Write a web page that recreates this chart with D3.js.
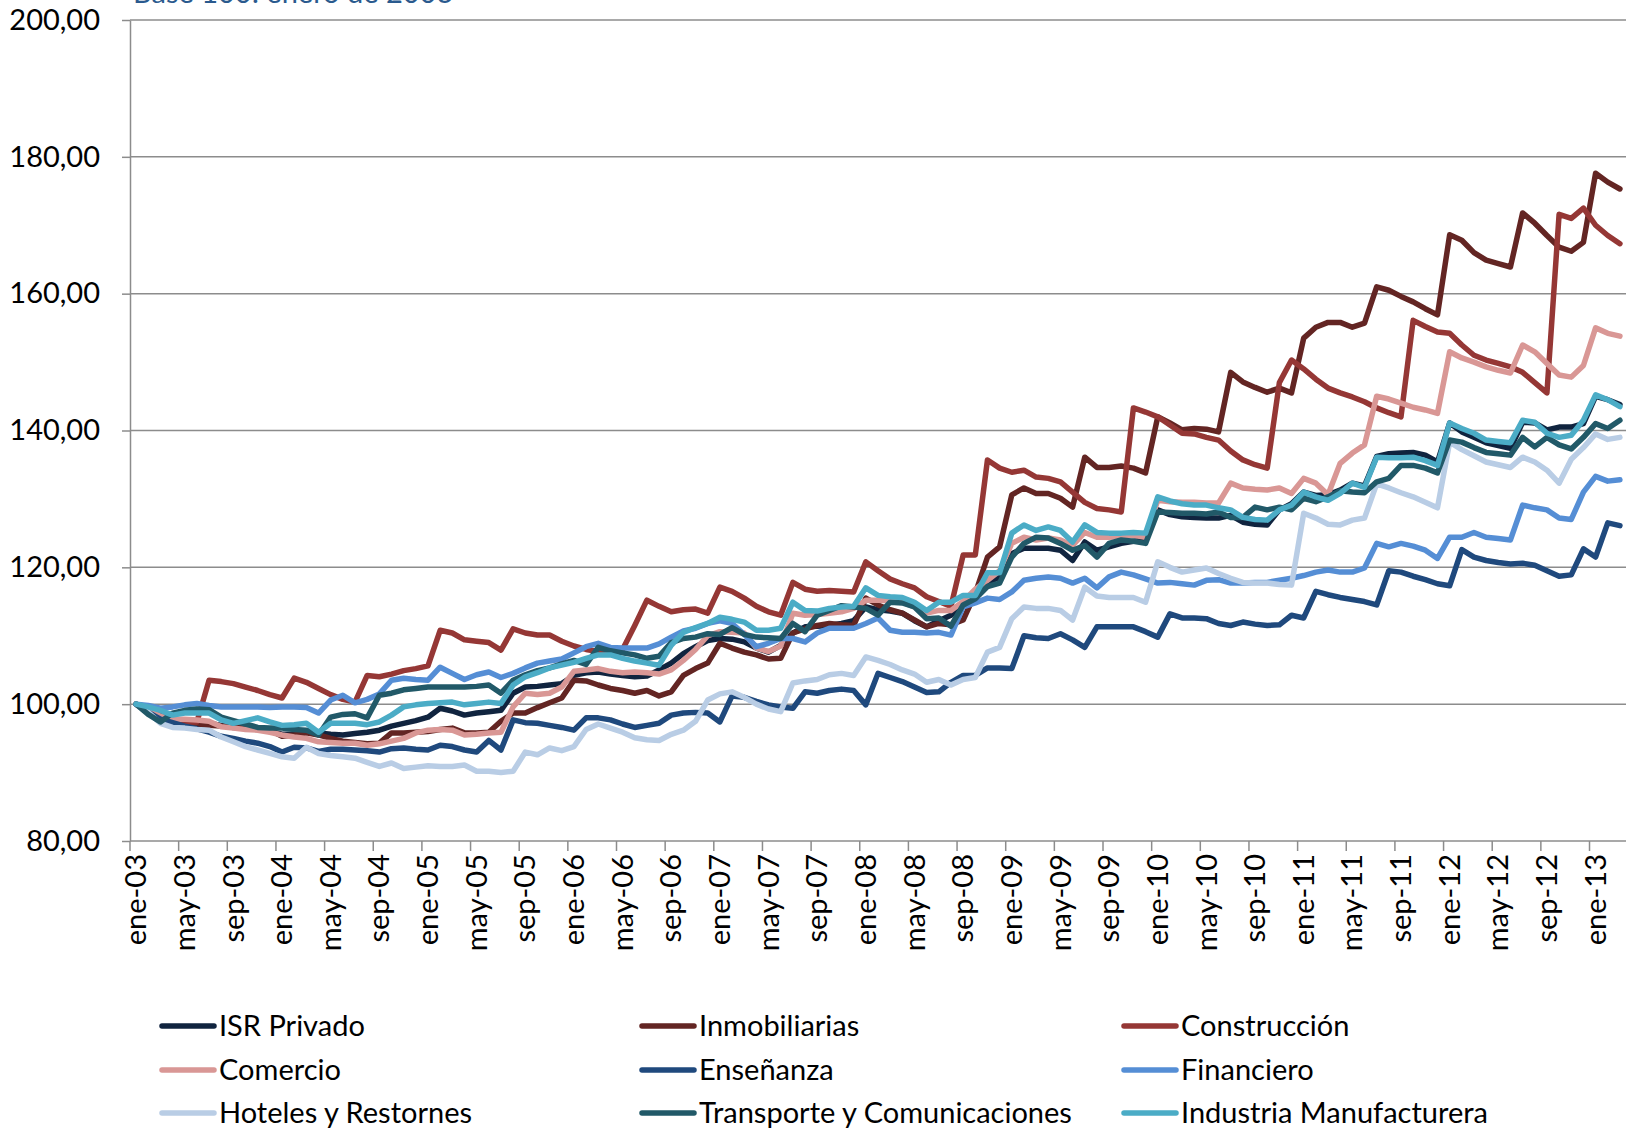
<!DOCTYPE html>
<html>
<head>
<meta charset="utf-8">
<script src="https://cdn.jsdelivr.net/npm/d3@7"></script>
<style>
body{margin:0;background:#fff;}
svg text{font-family:Lato,"Noto Sans",sans-serif;fill:#000;}
.axis path,.axis line{stroke:#8c8c8c;stroke-width:1.5;}
.grid line{stroke:#8c8c8c;stroke-width:1.5;}
.serie{fill:none;stroke-width:5.5;stroke-linejoin:round;stroke-linecap:round;}
</style>
</head>
<body>
<svg id="chart" width="1637" height="1130"></svg>
<script>
var svgWidth=1637;
var svgHeight=1130;
var plotLeft=130;
var plotRight=1626;
var plotTop=20;
var plotBottom=841;

var meses=["ene","feb","mar","abr","may","jun","jul","ago","sep","oct","nov","dic"];
var yTicks=[80,100,120,140,160,180,200];
var titulo="Base 100: enero de 2003";

var nombres=["ISR Privado","Inmobiliarias","Construcción","Comercio","Enseñanza","Financiero","Hoteles y Restornes","Transporte y Comunicaciones","Industria Manufacturera"];
var colores=["#10243f","#632523","#953735","#d99795","#1f497d","#558ed5","#b9cde5","#215968","#4bacc6"];

var isrPrivado=[
100,99.2,98.4,97.8,97.6,97.4,97.2,96.9,96.6,96.5,96.4,96.0,
95.6,95.6,95.9,95.8,95.6,95.5,95.7,95.9,96.2,96.8,97.2,97.6,
98.1,99.4,99.0,98.4,98.7,98.9,99.1,101.6,102.5,102.6,102.8,103.0,
104.2,104.6,104.7,104.4,104.2,104.0,104.1,105.0,106.0,107.4,108.4,109.3,
109.6,109.5,109.1,108.2,107.6,108.6,110.4,111.3,111.4,111.5,111.8,112.2,
114.2,113.8,113.6,113.3,112.2,111.3,112.2,113.0,114.8,116.5,117.7,118.6,
122.0,122.8,122.8,122.8,122.5,121.0,123.7,122.5,123.0,123.5,123.8,124.0,
128.4,127.7,127.4,127.3,127.2,127.2,127.6,126.6,126.3,126.2,128.4,129.3,
131.0,130.5,130.6,131.3,132.3,131.9,136.2,136.6,136.7,136.8,136.4,135.4,
141.1,139.8,139.0,138.2,137.8,137.4,141.2,141.1,140.1,140.5,140.5,141.0,
145.0,144.5,143.8];

var inmobiliarias=[
100,99.0,98.0,97.5,97.2,97.0,96.9,96.8,96.7,96.6,96.5,96.2,
95.3,95.5,95.8,95.5,95.0,94.6,94.4,94.2,94.3,95.8,95.8,95.9,
96.0,96.3,96.5,95.8,95.8,95.9,97.5,98.7,98.7,99.5,100.2,100.9,
103.5,103.4,102.8,102.3,102.0,101.6,102.0,101.2,101.8,104.2,105.2,106.0,
108.9,108.2,107.6,107.2,106.6,106.7,110.4,111.0,111.5,111.8,111.6,111.5,
115.5,114.5,113.8,113.3,112.3,111.3,111.8,111.6,112.3,116.2,121.5,123.0,
130.6,131.6,130.8,130.8,130.1,128.8,136.1,134.6,134.6,134.8,134.5,133.8,
142.0,141.1,140.1,140.3,140.2,139.8,148.5,147.1,146.3,145.6,146.2,145.5,
153.5,155.1,155.8,155.8,155.1,155.7,161.0,160.5,159.6,158.8,157.8,156.9,
168.6,167.8,166.0,164.9,164.4,163.9,171.8,170.3,168.5,166.8,166.2,167.5,
177.6,176.3,175.3];

var construccion=[
100,99.2,98.5,97.8,97.4,97.4,103.5,103.3,103.0,102.5,102.0,101.4,
100.9,103.8,103.2,102.3,101.4,100.7,100.3,104.2,104.0,104.4,104.9,105.2,
105.6,110.8,110.4,109.4,109.2,109.0,107.9,111.0,110.4,110.1,110.1,109.2,
108.5,108.0,107.7,107.5,108.0,111.5,115.2,114.3,113.5,113.8,113.9,113.3,
117.1,116.5,115.5,114.3,113.5,113.0,117.8,116.8,116.5,116.6,116.5,116.4,
120.8,119.5,118.3,117.6,117.0,115.7,115.0,114.3,121.8,121.8,135.7,134.5,
133.9,134.2,133.2,133.0,132.5,131.0,129.5,128.6,128.4,128.1,143.3,142.7,
142.0,140.8,139.6,139.5,139.0,138.6,137.0,135.7,135.0,134.5,147.0,150.3,
149.0,147.5,146.2,145.5,144.9,144.2,143.3,142.6,142.0,156.1,155.2,154.4,
154.2,152.5,151.0,150.3,149.8,149.3,148.5,147.0,145.5,171.6,171.0,172.5,
170.0,168.5,167.3];

var comercio=[
100,99.2,98.2,97.8,97.8,97.7,97.5,96.7,96.5,96.3,96.2,95.9,
95.5,95.2,95.0,94.5,94.4,94.3,94.3,94.0,94.2,94.6,95.0,95.8,
96.2,96.3,96.2,95.5,95.6,95.8,95.9,99.6,101.6,101.4,101.6,102.5,
104.8,105.0,105.2,104.8,104.6,104.7,104.6,104.4,105.0,106.4,108.0,110.0,
110.6,110.5,110.4,108.2,107.7,108.5,113.3,113.0,113.1,113.3,113.5,114.0,
115.2,115.2,115.1,114.9,114.2,113.3,113.7,113.7,115.0,116.8,118.1,119.5,
123.5,124.4,124.0,124.3,124.0,123.2,125.1,124.4,124.4,124.5,124.7,124.4,
129.8,129.6,129.5,129.5,129.4,129.4,132.3,131.6,131.4,131.3,131.6,130.8,
133.0,132.3,130.6,135.2,136.7,137.9,145.0,144.6,144.0,143.4,143.0,142.5,
151.5,150.6,150.0,149.3,148.8,148.4,152.5,151.5,149.8,148.1,147.8,149.5,
155.0,154.2,153.8];

var ensenanza=[
100,98.8,97.8,97.3,96.8,96.4,95.9,95.3,95.0,94.6,94.3,93.8,
93.0,93.7,93.6,93.1,93.4,93.4,93.3,93.2,93.0,93.5,93.6,93.4,
93.3,94.0,93.8,93.3,93.0,94.7,93.3,97.7,97.3,97.2,96.9,96.6,
96.2,98.0,98.0,97.7,97.1,96.6,96.9,97.2,98.4,98.7,98.8,98.7,
97.4,101.2,101.0,100.4,99.9,99.6,99.4,101.8,101.6,102.0,102.2,102.0,
99.9,104.5,103.9,103.3,102.5,101.7,101.8,103.2,104.2,104.2,105.3,105.3,
105.2,110.0,109.7,109.6,110.3,109.4,108.3,111.3,111.3,111.3,111.3,110.6,
109.8,113.2,112.6,112.6,112.5,111.8,111.5,112.0,111.7,111.5,111.6,113.0,
112.6,116.5,116.0,115.6,115.3,115.0,114.5,119.5,119.3,118.7,118.2,117.6,
117.3,122.6,121.5,121.0,120.7,120.5,120.6,120.3,119.5,118.7,118.9,122.7,
121.5,126.5,126.1];

var financiero=[
100,99.8,99.4,99.6,99.9,100.1,99.8,99.6,99.6,99.6,99.6,99.5,
99.6,99.6,99.5,98.7,100.6,101.3,100.2,100.7,101.5,103.5,103.8,103.6,
103.5,105.4,104.5,103.6,104.3,104.7,103.9,104.5,105.3,106.0,106.3,106.6,
107.5,108.4,108.9,108.3,108.2,108.2,108.2,108.8,109.8,110.7,111.1,111.8,
112.2,111.8,110.2,108.4,108.9,109.6,109.6,109.1,110.4,111.1,111.1,111.1,
111.8,112.6,110.8,110.5,110.5,110.4,110.5,110.1,114.2,114.8,115.5,115.3,
116.4,118.1,118.4,118.6,118.4,117.7,118.4,117.0,118.6,119.3,118.9,118.3,
117.7,117.8,117.6,117.4,118.1,118.2,117.7,117.7,117.8,117.8,118.1,118.4,
118.8,119.3,119.6,119.3,119.3,119.9,123.5,123.0,123.5,123.1,122.5,121.3,
124.4,124.4,125.1,124.4,124.2,124.0,129.1,128.7,128.4,127.2,127.0,131.0,
133.3,132.6,132.8];

var hoteles=[
100,98.8,97.2,96.6,96.5,96.3,96.2,95.2,94.5,93.8,93.3,92.8,
92.3,92.1,93.7,92.8,92.5,92.3,92.1,91.5,90.9,91.4,90.6,90.8,
91.0,90.9,90.9,91.1,90.2,90.2,90.0,90.2,93.0,92.6,93.6,93.2,
93.8,96.3,97.1,96.5,95.9,95.1,94.8,94.7,95.6,96.2,97.5,100.6,
101.5,101.8,101.0,100.0,99.3,98.9,103.1,103.4,103.6,104.3,104.5,104.2,
106.9,106.4,105.8,105.0,104.4,103.2,103.6,102.8,103.6,103.9,107.6,108.3,
112.5,114.2,114.0,114.0,113.7,112.3,117.1,115.8,115.6,115.6,115.6,114.9,
120.8,120.0,119.3,119.6,119.9,119.1,118.4,117.8,117.7,117.7,117.5,117.4,
127.9,127.2,126.3,126.2,126.9,127.2,132.2,131.6,130.9,130.3,129.5,128.7,
138.3,137.2,136.3,135.4,135.0,134.6,136.1,135.4,134.2,132.3,135.8,137.5,
139.5,138.7,139.0];

var transporte=[
100,98.5,97.4,98.7,99.1,99.3,99.2,98.1,97.6,97.1,96.6,96.5,
96.5,96.3,96.2,95.5,98.1,98.5,98.6,98.0,101.3,101.6,102.1,102.3,
102.5,102.5,102.5,102.5,102.6,102.8,101.6,103.5,104.3,104.9,105.3,105.9,
106.4,105.8,108.3,107.8,107.5,107.2,106.7,107.0,109.0,109.6,109.8,110.3,
110.2,111.2,110.2,109.8,109.7,109.6,111.8,110.6,113.0,113.7,114.4,114.2,
114.0,113.0,114.9,114.8,114.2,112.5,112.6,111.4,114.5,115.4,117.2,117.7,
121.5,123.5,124.4,124.3,123.5,122.5,123.2,121.5,123.5,124.0,123.8,123.5,
128.1,128.0,127.9,127.9,127.8,128.1,127.3,127.3,128.8,128.4,128.8,128.4,
130.1,129.6,130.3,131.2,131.0,130.9,132.5,133.0,134.9,134.9,134.5,133.8,
138.6,138.3,137.5,136.8,136.6,136.4,139.0,137.6,139.0,137.9,137.3,139.0,
141.0,140.3,141.5];

var industria=[
100,99.6,99.1,98.4,98.7,98.7,98.7,97.7,97.2,97.6,98.0,97.4,
96.9,97.0,97.2,95.9,97.2,97.2,97.2,97.0,97.4,98.4,99.6,99.9,
100.1,100.2,100.3,99.9,100.1,100.3,100.1,102.8,104.0,104.6,105.3,105.7,
106.1,106.7,107.2,107.2,106.7,106.3,106.0,105.7,108.6,110.5,111.2,111.8,
112.7,112.4,112.0,110.8,110.8,111.1,114.9,113.7,113.6,114.0,114.2,114.3,
117.0,115.9,115.7,115.6,114.9,113.7,114.9,114.9,115.9,115.9,119.2,119.2,
125.0,126.2,125.4,125.9,125.4,123.7,126.2,125.1,125.0,125.0,125.1,125.0,
130.3,129.7,129.3,129.1,129.1,128.7,128.4,127.3,127.0,126.9,128.4,129.1,
131.0,130.3,129.8,130.8,132.3,131.7,136.1,136.0,136.0,136.1,135.6,134.9,
141.1,140.3,139.6,138.6,138.4,138.2,141.5,141.2,139.6,139.0,139.3,141.5,
145.2,144.5,143.5];

var series=[isrPrivado,inmobiliarias,construccion,comercio,ensenanza,financiero,hoteles,transporte,industria];

// categorias mensuales ene-03 ... mar-13
var categorias=[];
for(var i=0;i<isrPrivado.length;i++){
    var anio=3+Math.floor(i/12);
    categorias.push(meses[i%12]+"-"+(anio<10?"0"+anio:anio));
}

var svg=d3.select("#chart");
svg.append("rect").attr("width",svgWidth).attr("height",svgHeight).attr("fill","#fff");

var xScale=d3.scaleBand()
    .domain(categorias)
    .range([plotLeft,plotRight])
    .padding(0);

var yScale=d3.scaleLinear()
    .domain([80,200])
    .range([plotBottom,plotTop]);

var fmt=d3.formatLocale({decimal:",",thousands:".",grouping:[3],currency:["","€"]}).format(".2f");

// lineas de cuadricula
svg.append("g")
    .attr("class","grid")
    .selectAll("line")
    .data(yTicks.slice(1))
    .enter()
    .append("line")
    .attr("x1",plotLeft)
    .attr("x2",plotRight)
    .attr("y1",function(d){return yScale(d);})
    .attr("y2",function(d){return yScale(d);});

// eje vertical
var yAxis=svg.append("g")
    .attr("class","axis")
    .attr("transform","translate("+plotLeft+",0)")
    .call(d3.axisLeft(yScale).tickValues(yTicks).tickSize(8).tickSizeOuter(0).tickPadding(22).tickFormat(fmt));
yAxis.selectAll("text").attr("font-size",29).attr("fill","#000");

// eje horizontal
var etiquetas=categorias.filter(function(d,i){return i%4==0;});
svg.append("line")
    .attr("class","axisx")
    .attr("x1",plotLeft).attr("x2",plotRight)
    .attr("y1",plotBottom).attr("y2",plotBottom)
    .attr("stroke","#8c8c8c").attr("stroke-width",1.5);

svg.append("g")
    .selectAll("line")
    .data(etiquetas)
    .enter()
    .append("line")
    .attr("x1",function(d){return xScale(d);})
    .attr("x2",function(d){return xScale(d);})
    .attr("y1",plotBottom)
    .attr("y2",plotBottom+10)
    .attr("stroke","#8c8c8c").attr("stroke-width",1.5);

svg.append("g")
    .selectAll("text")
    .data(etiquetas)
    .enter()
    .append("text")
    .attr("transform",function(d){
        return "translate("+(xScale(d)+xScale.bandwidth()/2)+","+(plotBottom+13)+") rotate(-90)";
    })
    .attr("text-anchor","end")
    .attr("dy","0.35em")
    .attr("font-size",29)
    .text(function(d){return d;});

// series
var line=d3.line()
    .x(function(d,i){return xScale(categorias[i])+xScale.bandwidth()/2;})
    .y(function(d){return yScale(d);});

svg.append("g")
    .selectAll("path")
    .data(series)
    .enter()
    .append("path")
    .attr("class","serie")
    .attr("stroke",function(d,i){return colores[i];})
    .attr("d",line);

// titulo (cortado arriba, como en el original)
svg.append("text")
    .attr("x",133)
    .attr("y",3)
    .attr("font-size",29)
    .style("fill","#2a5a8e")
    .text(titulo);

// leyenda
var legX=[162,642,1124];
var legY=[1026,1070,1113];
var leg=svg.append("g")
    .selectAll("g")
    .data(nombres)
    .enter()
    .append("g")
    .attr("transform",function(d,i){
        return "translate("+legX[i%3]+","+legY[Math.floor(i/3)]+")";
    });
leg.append("line")
    .attr("x1",0).attr("x2",52)
    .attr("y1",0).attr("y2",0)
    .attr("stroke",function(d,i){return colores[i];})
    .attr("stroke-width",5.5)
    .attr("stroke-linecap","round");
leg.append("text")
    .attr("x",57)
    .attr("dy","0.35em")
    .attr("font-size",29)
    .text(function(d){return d;});
</script>
</body>
</html>
